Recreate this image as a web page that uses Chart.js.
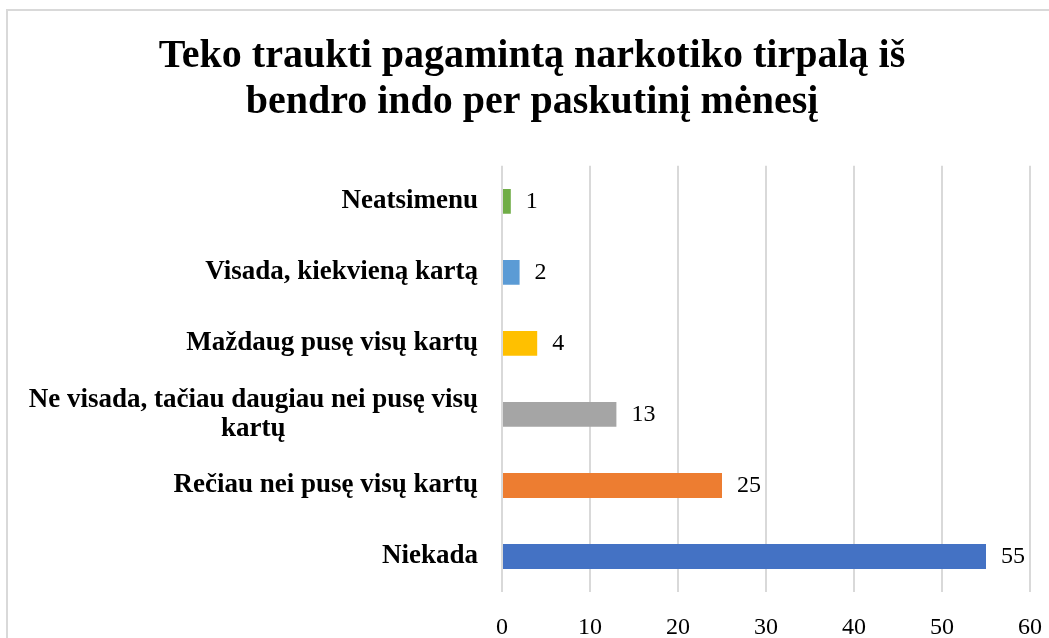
<!DOCTYPE html>
<html>
<head>
<meta charset="utf-8">
<script src="https://cdn.jsdelivr.net/npm/chart.js@4/dist/chart.umd.min.js"></script>
<style>
  html, body { margin: 0; padding: 0; background: #fff; overflow: hidden; }
  #wrap { position: relative; width: 1049px; height: 638px; }
</style>
</head>
<body>
<div id="wrap"><canvas id="needle-chart"></canvas></div>
<script>
// categories, top to bottom as in the picture
const categories = [
  "Neatsimenu",
  "Visada, kiekvieną kartą",
  "Maždaug pusę visų kartų",
  ["Ne visada, tačiau daugiau nei pusę visų", "kartų"],
  "Rečiau nei pusę visų kartų",
  "Niekada"
];
const answers = [1, 2, 4, 13, 25, 55];
const barColors = ["#70AD47", "#5B9BD5", "#FFC000", "#A5A5A5", "#ED7D31", "#4472C4"];
const xMin = 0, xMax = 60, xStep = 10;

const serif = "'Liberation Serif', 'Times New Roman', serif";

// Excel-like chart area border (only top and left show in the crop)
const frame = {
  id: "frame",
  beforeDraw(chart) {
    const ctx = chart.ctx;
    ctx.save();
    ctx.strokeStyle = "#d9d9d9";
    ctx.lineWidth = 2;
    ctx.beginPath();
    ctx.moveTo(7, 2000);
    ctx.lineTo(7, 10);
    ctx.lineTo(2000, 10);
    ctx.stroke();
    ctx.restore();
  }
};

// category names drawn next to the axis, wrapped lines centred on each other
const catLabels = {
  id: "catLabels",
  afterDraw(chart) {
    const ctx = chart.ctx;
    const y = chart.scales.y;
    const right = chart.chartArea.left - 24;
    ctx.save();
    ctx.font = "bold 27px " + serif;
    ctx.fillStyle = "#000";
    ctx.textAlign = "center";
    ctx.textBaseline = "middle";
    categories.forEach((lab, i) => {
      const lines = Array.isArray(lab) ? lab : [lab];
      const w = Math.max(...lines.map(l => ctx.measureText(l).width));
      const cx = right - w / 2;
      const lh = 29;
      const y0 = y.getPixelForValue(i) - (lines.length - 1) * lh / 2;
      lines.forEach((l, k) => ctx.fillText(l, cx, y0 + k * lh));
    });
    ctx.restore();
  }
};

// value labels at the end of each bar
const valueLabels = {
  id: "valueLabels",
  afterDatasetsDraw(chart) {
    const ctx = chart.ctx;
    const meta = chart.getDatasetMeta(0);
    ctx.save();
    ctx.font = "24px " + serif;
    ctx.fillStyle = "#000";
    ctx.textAlign = "left";
    ctx.textBaseline = "middle";
    meta.data.forEach((bar, i) => {
      ctx.fillText(String(answers[i]), bar.x + 15, bar.y);
    });
    ctx.restore();
  }
};

new Chart("needle-chart", {
  type: "bar",
  data: {
    labels: categories,
    datasets: [{
      data: answers,
      backgroundColor: barColors,
      borderWidth: 0,
      barPercentage: 1,
      categoryPercentage: 0.35
    }]
  },
  options: {
    indexAxis: "y",
    responsive: true,
    maintainAspectRatio: false,
    devicePixelRatio: 1,
    animation: false,
    layout: { padding: { left: 20, right: 5, top: 0, bottom: 0 } },
    plugins: {
      legend: { display: false },
      tooltip: { enabled: false },
      title: {
        display: true,
        text: ["Teko traukti pagamintą narkotiko tirpalą iš", "bendro indo per paskutinį mėnesį"],
        color: "#000",
        font: { family: serif, size: 40, weight: "bold", lineHeight: 1.16 },
        padding: { top: 33, bottom: 40 }
      }
    },
    scales: {
      x: {
        min: xMin,
        max: xMax,
        ticks: {
          stepSize: xStep,
          color: "#000",
          font: { family: serif, size: 24 },
          padding: 21,
          maxRotation: 0
        },
        grid: { color: "#d9d9d9", lineWidth: 2, drawTicks: false, tickLength: 0 },
        border: { display: false },
        afterFit(scale) {
          scale.height = 46;
          scale.paddingLeft = 0;
          scale.paddingRight = 19;
        }
      },
      y: {
        ticks: { display: false },
        grid: { display: false, drawTicks: false },
        border: { display: false },
        afterFit(scale) { scale.width = 482; }
      }
    }
  },
  plugins: [frame, catLabels, valueLabels]
});
</script>
</body>
</html>
